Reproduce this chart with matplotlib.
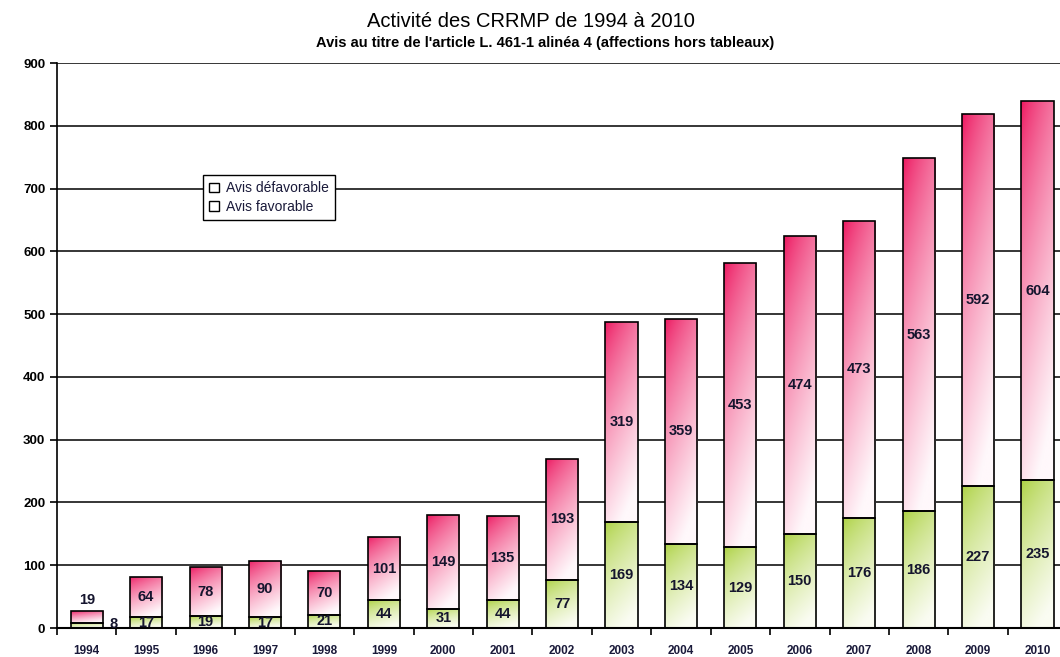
import numpy as np
import matplotlib
matplotlib.use("Agg")
import matplotlib.pyplot as plt
from matplotlib.patches import Patch

years = ['1994', '1995', '1996', '1997', '1998', '1999', '2000', '2001', '2002',
         '2003', '2004', '2005', '2006', '2007', '2008', '2009', '2010']
favorable = [8, 17, 19, 17, 21, 44, 31, 44, 77, 169, 134, 129, 150, 176, 186, 227, 235]
defavorable = [19, 64, 78, 90, 70, 101, 149, 135, 193, 319, 359, 453, 474, 473, 563, 592, 604]

plt.rcParams['font.family'] = ['Liberation Sans', 'DejaVu Sans']

fig = plt.figure(figsize=(10.6, 6.57), dpi=100)
ax = fig.add_axes([0.0538, 0.0441, 0.953, 0.86])

x = np.arange(len(years))
w = 0.54
fav = ax.bar(x, favorable, w, facecolor='none', edgecolor='black', linewidth=1.2, zorder=3)
dfv = ax.bar(x, defavorable, w, bottom=favorable, facecolor='none', edgecolor='black',
             linewidth=1.2, zorder=3)


def gradient(top, bottom, n=64):
    # vertical fade top->bottom with a slight left->right lightening
    v = np.linspace(0, 1, n)[:, None]
    h = np.linspace(0, 1, n)[None, :]
    t = np.clip(0.85 * v + 0.3 * h, 0, 1) ** 0.7
    top = np.array(top) / 255.0
    bottom = np.array(bottom) / 255.0
    return top[None, None, :] * (1 - t[..., None]) + bottom[None, None, :] * t[..., None]


pink = gradient((236, 18, 92), (255, 248, 251))
green = gradient((170, 208, 60), (250, 252, 242))

for bars, img in ((fav, green), (dfv, pink)):
    for b in bars:
        x0, y0 = b.get_x(), b.get_y()
        im = ax.imshow(img, extent=(x0, x0 + b.get_width(), y0, y0 + b.get_height()),
                       origin='upper', aspect='auto', zorder=2, interpolation='bilinear')
        im.set_clip_path(b)

lab = dict(fontsize=10.5, fontweight='bold', color='#15152e', zorder=5)
for i in range(len(years)):
    f, d = favorable[i], defavorable[i]
    if d < 25:
        ax.text(x[i], f + d + 6, str(d), ha='center', va='bottom', **lab)
    else:
        ax.text(x[i], f + d / 2, str(d), ha='center', va='center', **lab)
    if f < 10:
        ax.text(x[i] + w / 2 + 0.12, f / 2 + 2, str(f), ha='left', va='center', **lab)
    else:
        ax.text(x[i], f / 2, str(f), ha='center', va='center', **lab)

ax.set_xlim(-0.5, len(years) - 0.5)
ax.set_ylim(0, 900)
ax.set_yticks(range(0, 901, 100))
ax.yaxis.grid(True, color='black', linewidth=1.1, zorder=1)
ax.set_axisbelow(True)
ax.set_xticks(x)
ax.set_xticklabels(years, fontsize=8.5, fontweight='bold', color='#1a1a3a')
ax.set_xticks(np.arange(-0.5, len(years) - 0.5, 1), minor=True)
ax.tick_params(axis='x', which='major', length=0, pad=12)
ax.tick_params(axis='x', which='minor', length=5, width=1.2, direction='out')
ax.tick_params(axis='y', length=5, width=1.2, direction='out', labelsize=9.5)
for t in ax.get_yticklabels():
    t.set_fontweight('bold')
for s in ('top', 'right'):
    ax.spines[s].set_visible(False)
ax.spines['left'].set_linewidth(1.2)
ax.spines['bottom'].set_linewidth(1.5)

handles = [Patch(facecolor='white', edgecolor='black', label='Avis défavorable'),
           Patch(facecolor='white', edgecolor='black', label='Avis favorable')]
leg = fig.legend(handles=handles, loc='upper left', bbox_to_anchor=(0.1915, 0.7336),
                 fontsize=10, frameon=True, fancybox=False, edgecolor='black',
                 framealpha=1, handlelength=0.7, handleheight=0.7, handletextpad=0.5,
                 labelspacing=0.35, borderpad=0.45, borderaxespad=0)
leg.get_frame().set_linewidth(1.0)
for t in leg.get_texts():
    t.set_color('#1a1a3a')

fig.text(0.501, 0.967, 'Activité des CRRMP de 1994 à 2010', ha='center', va='center',
         fontsize=14.5)
fig.text(0.514, 0.934, "Avis au titre de l'article L. 461-1 alinéa 4 (affections hors tableaux)",
         ha='center', va='center', fontsize=10.5, fontweight='bold')

fig.savefig('out.png', dpi=100)
